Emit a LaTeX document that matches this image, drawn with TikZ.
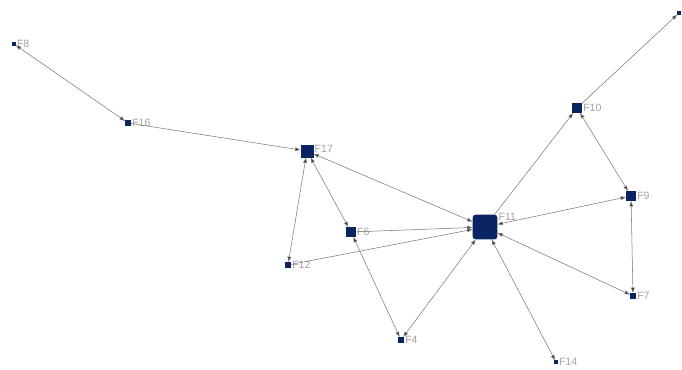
\documentclass[tikz,border=0pt]{standalone}
\usepackage{fontspec}
\setmainfont{Liberation Sans}
\usetikzlibrary{arrows.meta}
\definecolor{NETnavy}{RGB}{10, 36, 100}
\definecolor{NETgray}{RGB}{160, 160, 160}
\definecolor{NETline}{RGB}{120, 120, 120}
\tikzset{
  vtx/.style={rectangle, draw=NETnavy, fill=NETnavy, inner sep=0pt},
  vbig/.style={vtx, minimum size=24\unit, rounded corners=1.5pt},
  vmid/.style={vtx, minimum size=12\unit},
  vsml/.style={vtx, minimum size=9\unit},
  vtny/.style={vtx, minimum size=5\unit},
  vdot/.style={vtx, minimum size=2.5\unit},
  lbl/.style={font=\fontsize{6}{6}\selectfont, text=NETgray, inner sep=0.6pt},
  link/.style={-{Latex[length=1.1mm,width=0.8mm,fill=black!80]}, NETline, line width=0.3pt},
  both/.style={{Latex[length=1.1mm,width=0.8mm,fill=black!80]}-{Latex[length=1.1mm,width=0.8mm,fill=black!80]}, NETline, line width=0.3pt},
}
\newcommand{\unit}{pt*0.567}
\begin{document}
\begin{tikzpicture}[x=0.02cm, y=-0.02cm]
    \useasboundingbox (0,0) rectangle (682,369);
    % vertices
    \node[vdot] (f8)  at (14,44) {};
    \node[vtny] (f16) at (128,123) {};
    \node[vmid] (f17) at (307,151) {};
    \node[vsml] (f6)  at (351,232) {};
    \node[vtny] (f12) at (288,265) {};
    \node[vtny] (f4)  at (401,340) {};
    \node[vbig] (f11) at (485,227) {};
    \node[vsml] (f10) at (577,108) {};
    \node[vsml] (f9)  at (631,196) {};
    \node[vtny] (f7)  at (633,296) {};
    \node[vdot] (f14) at (556,362) {};
    \node[vdot] (f1)  at (679,13) {};
    % labels
    \node[lbl, anchor=west] at (f8.east) {F8};
    \node[lbl, anchor=west] at (f16.east) {F16};
    \node[lbl, anchor=west] at ([yshift=0.04cm]f17.east) {F17};
    \node[lbl, anchor=west] at (f6.east) {F6};
    \node[lbl, anchor=west] at (f12.east) {F12};
    \node[lbl, anchor=west] at (f4.east) {F4};
    \node[lbl, anchor=north west] at ([yshift=0.06cm]f11.north east) {F11};
    \node[lbl, anchor=west] at (f10.east) {F10};
    \node[lbl, anchor=west] at (f9.east) {F9};
    \node[lbl, anchor=west] at (f7.east) {F7};
    \node[lbl, anchor=west] at (f14.east) {F14};
    % links
    \draw[both] (f16) -- (f8);
    \draw[link] (f16) -- (f17);
    \draw[both] (f17) -- (f12);
    \draw[both] (f17) -- (f6);
    \draw[both] (f11) -- (f17);
    \draw[link] (f6) -- (f11);
    \draw[link] (f12) -- (f11);
    \draw[both] (f4) -- (f6);
    \draw[both] (f11) -- (f4);
    \draw[link] (f11) -- (f10);
    \draw[link] (f10) -- (f1);
    \draw[both] (f10) -- (f9);
    \draw[both] (f11) -- (f9);
    \draw[both] (f9) -- (f7);
    \draw[both] (f11) -- (f7);
    \draw[both] (f11) -- (f14);
\end{tikzpicture}
\end{document}
